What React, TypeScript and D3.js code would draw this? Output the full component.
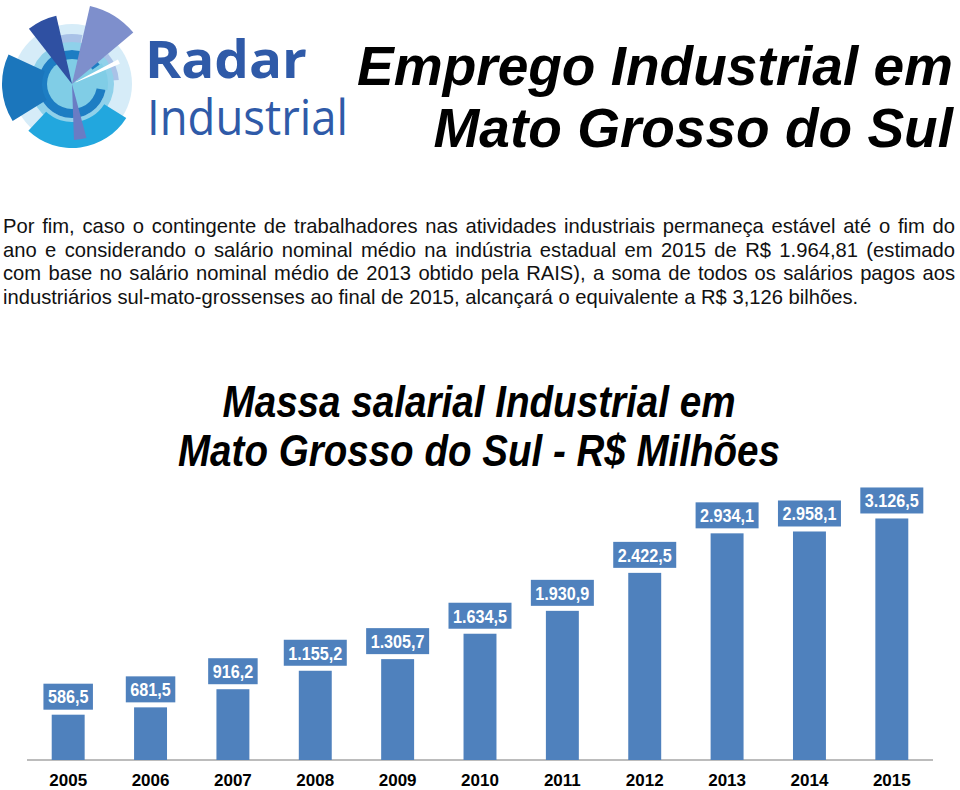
import React, { useLayoutEffect, useRef } from "react";
import * as d3 from "d3";

// ---------- data ----------
const years = ["2005", "2006", "2007", "2008", "2009", "2010", "2011", "2012", "2013", "2014", "2015"];
const values = [586.5, 681.5, 916.2, 1155.2, 1305.7, 1634.5, 1930.9, 2422.5, 2934.1, 2958.1, 3126.5];
const valueLabels = ["586,5", "681,5", "916,2", "1.155,2", "1.305,7", "1.634,5", "1.930,9", "2.422,5", "2.934,1", "2.958,1", "3.126,5"];

const headerLines = ["Emprego Industrial em", "Mato Grosso do Sul"];
const chartTitleLines = ["Massa salarial Industrial em", "Mato Grosso do Sul - R$ Milhões"];
const paragraphLines = [
  "Por fim, caso o contingente de trabalhadores nas atividades industriais permaneça estável até o fim do",
  "ano e considerando o salário nominal médio na indústria estadual em 2015 de R$ 1.964,81 (estimado",
  "com base no salário nominal médio de 2013 obtido pela RAIS), a soma de todos os salários pagos aos",
  "industriários sul-mato-grossenses ao final de 2015, alcançará o equivalente a R$ 3,126 bilhões.",
];

const W = 960;
const H = 790;
const BAR = "#4f81bd";
const ARIAL = "'Liberation Sans', Arial, sans-serif";

const deg = (a: number) => (a * Math.PI) / 180;

function Logo() {
  const cx = 72, cy = 84;
  const arc = d3.arc<any>();
  const seg = (ri: number, ro: number, a0: number, a1: number) =>
    arc({ innerRadius: ri, outerRadius: ro, startAngle: deg(a0), endAngle: deg(a1) }) as string;
  return (
    <g transform={`translate(${cx},${cy})`}>
      <circle r={60} fill="#d6ecf8" />
      <path d={seg(38, 50, -25, 12)} fill="#a9c2e7" />
      <path d={seg(36, 47, 50, 85)} fill="#a9c2e7" />
      <path d={seg(34, 42, 0, 360)} fill="#8fd1ea" />
      <circle r={34} fill="#1d7dc3" />
      <circle r={25} fill="#80cde6" />
      <path d={seg(24, 36, 55, 100)} fill="#80cde6" />
      <path d={seg(30, 70, -122, -65)} fill="#1b76bc" />
      <path d={seg(38, 64, 122, 223)} fill="#22a7de" />
      <path d={seg(0, 70, -38, -13)} fill="#2f50a2" />
      <path d={seg(0, 80, 13, 50)} fill="#7e8fcc" />
      <path d={seg(0, 56, 165, 178)} fill="#6a7cc4" />
      <path d={seg(4, 52, 62, 67)} fill="#ffffff" />
    </g>
  );
}

export default function App() {
  const paraRef = useRef<SVGGElement>(null);

  const x = d3.scaleBand<string>().domain(years).range([27, 933]).paddingInner(0.6).paddingOuter(0.3);
  const y = d3.scaleLinear().domain([0, 4000]).range([760, 451]);

  useLayoutEffect(() => {
    const g = paraRef.current;
    if (!g) return;
    const texts = Array.from(g.querySelectorAll("text")) as SVGTextElement[];
    texts.forEach((t) => {
      t.setAttribute("font-size", "17");
      t.style.wordSpacing = "0px";
    });
    const last = texts[texts.length - 1];
    const w = last.getComputedTextLength();
    const fs = (17 * 856) / w;
    texts.forEach((t) => t.setAttribute("font-size", String(fs)));
    texts.forEach((t, i) => {
      if (i === texts.length - 1) return;
      const nw = t.getComputedTextLength();
      const spaces = (t.textContent || "").split(" ").length - 1;
      t.style.wordSpacing = `${(952 - nw) / spaces}px`;
    });
  }, []);

  const labelWidth = (s: string) => {
    let w = 0;
    for (const c of s) w += /[0-9]/.test(c) ? 9 : 4.5;
    return w;
  };

  return (
    <svg width={W} height={H} style={{ position: "absolute", left: 0, top: 0, background: "#fff" }}>
      <rect width={W} height={H} fill="#fff" />
      <Logo />
      <text x={145} y={78} fill="#2f5aa8" fontFamily="'Open Sans', sans-serif" fontWeight={700} fontSize={52}
        textLength={162} lengthAdjust="spacingAndGlyphs">Radar</text>
      <text x={147} y={135} fill="#2f5aa8" fontFamily="'Open Sans', sans-serif" fontWeight={400} fontSize={50}
        textLength={201} lengthAdjust="spacingAndGlyphs">Industrial</text>

      {headerLines.map((l, i) => (
        <text key={l} x={953} y={85 + i * 62} textAnchor="end" fontFamily={ARIAL}
          fontWeight="bold" fontStyle="italic" fontSize={55} fill="#000">{l}</text>
      ))}

      <g ref={paraRef} fontFamily={ARIAL} fill="#111">
        {paragraphLines.map((l, i) => (
          <text key={i} x={3} y={233 + i * 23.6} fontSize={17}>{l}</text>
        ))}
      </g>

      {chartTitleLines.map((l, i) => (
        <text key={l} x={479} y={417 + i * 49} textAnchor="middle" fontFamily={ARIAL} fontWeight="bold"
          fontStyle="italic" fontSize={44} fill="#000" textLength={i === 0 ? 513 : 602} lengthAdjust="spacingAndGlyphs">{l}</text>
      ))}

      <line x1={27} x2={933} y1={y(0)} y2={y(0)} stroke="#a6a6a6" strokeWidth={1.5} />

      {years.map((yr, i) => {
        const bx = x(yr)!;
        const cx = bx + x.bandwidth() / 2;
        const top = y(values[i]);
        const tw = labelWidth(valueLabels[i]);
        const bw = tw + 9;
        const bh = 26;
        const by = top - 5 - bh;
        return (
          <g key={yr}>
            <rect x={bx} y={top} width={x.bandwidth()} height={y(0) - top} fill={BAR} />
            <rect x={cx - bw / 2} y={by} width={bw} height={bh} fill={BAR} />
            <text x={cx} y={by + 19.8} textAnchor="middle" fill="#fff" fontFamily={ARIAL} fontWeight="bold"
              fontSize={19} textLength={tw} lengthAdjust="spacingAndGlyphs">{valueLabels[i]}</text>
            <text x={cx} y={786} textAnchor="middle" fill="#000" fontFamily={ARIAL}
              fontWeight="bold" fontSize={17}>{yr}</text>
          </g>
        );
      })}
    </svg>
  );
}
